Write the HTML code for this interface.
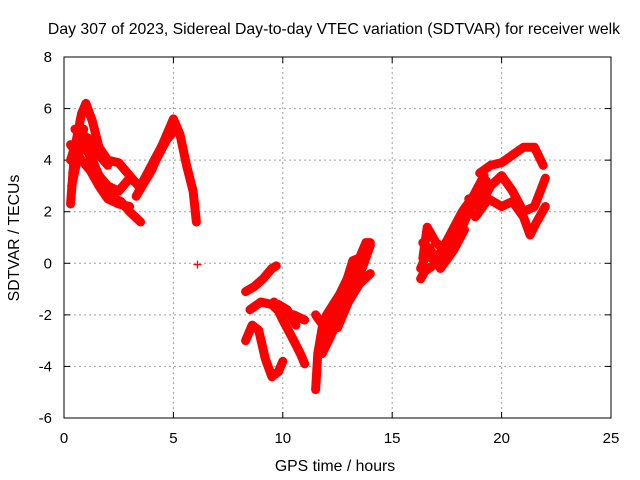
<!DOCTYPE html>
<html><head><meta charset="utf-8"><style>
body{margin:0;background:#fff;}
svg{display:block;font-family:"Liberation Sans",sans-serif;}
</style></head><body>
<svg id="chart" width="640" height="480" xmlns="http://www.w3.org/2000/svg">
<text x="334" y="34" font-size="15.8" text-anchor="middle">Day 307 of 2023, Sidereal Day-to-day VTEC variation (SDTVAR) for receiver welk</text>
<text x="335" y="471" font-size="15.8" text-anchor="middle">GPS time / hours</text>
<text x="19" y="238" font-size="15.8" text-anchor="middle" transform="rotate(-90 19 238)">SDTVAR / TECUs</text>
<g id="grid"></g><g id="axes"></g><g id="marks"></g>
</svg>
<script>
const xTicks=[0,5,10,15,20,25];
const yTicks=[-6,-4,-2,0,2,4,6,8];
const trackNames=["a","b","c","d","e","f","g","h","i","j","k","l","m","n","o","p","q","r","s","t","u","v","w","x"];
const trackTimes=[
[0.3,0.5,0.8,1.0,1.3,1.6,2.0,2.5,3.0,3.5,4.0,4.5,5.0,5.3,5.6,5.9,6.05],
[0.3,0.6,1.0,1.5,2.0,2.5,3.0,3.5,4.0,4.5,5.0],
[0.4,0.7,1.0,1.3,1.7,2.0,2.3,2.6,3.0,3.5],
[0.3,0.8,1.2,1.6,2.0,2.5,3.0],
[8.3,8.7,9.1,9.5,9.7],
[8.5,9.0,9.5,10.0,10.5,11.0],
[9.6,10.0,10.5,10.8,11.0],
[8.3,8.6,8.9,9.2,9.5,9.8,10.0],
[11.5,11.6,11.8,12.0,12.3,12.6,13.0,13.3],
[11.5,12.0,12.5,13.0,13.5,14.0],
[12.0,12.5,12.8,13.2,13.5,13.8,14.0],
[12.5,13.0,13.5,14.0],
[16.3,16.5,17.0,17.5,18.0,18.5,19.0,19.3],
[19.0,19.5,20.0,20.5,21.0,21.5,21.9],
[18.5,19.0,19.5,20.0,20.5,21.0,21.5,22.0],
[18.8,19.4,20.0,20.5,21.0,21.3,21.6,22.0],
[16.4,16.6,17.0,17.3,17.6],
[0.35,0.6,0.9],
[0.5,0.8,1.2,1.6,2.0],
[3.3,3.7,4.2,4.7,5.1],
[16.4,16.8,17.2,17.7,18.2,18.7,19.2],
[16.3,16.7,17.2,17.8,18.3],
[11.8,12.2,12.6,13.0,13.4],
[9.8,10.2,10.6]];
const trackValues=[
[2.3,4.5,5.8,6.2,5.5,4.5,4.0,3.9,3.4,2.9,3.6,4.6,5.6,5.0,3.8,2.8,1.6],
[4.0,4.8,4.5,3.5,3.0,2.8,3.3,3.0,3.8,4.6,5.5],
[3.5,4.3,4.7,4.0,3.2,2.8,2.5,2.4,2.0,1.6],
[4.6,4.0,3.6,3.0,2.5,2.3,2.2],
[-1.1,-0.9,-0.6,-0.2,-0.1],
[-1.8,-1.5,-1.6,-2.0,-2.0,-2.2],
[-1.5,-2.2,-3.0,-3.5,-3.9],
[-3.0,-2.4,-2.6,-3.7,-4.4,-4.2,-3.8],
[-4.9,-3.5,-2.5,-2.0,-1.6,-1.2,-0.5,0.0],
[-2.0,-2.6,-1.8,-1.2,-0.5,0.7],
[-3.0,-2.2,-1.0,0.1,0.2,0.8,0.8],
[-2.5,-1.5,-0.8,-0.4],
[-0.6,-0.3,0.0,0.3,1.0,2.0,2.8,3.2],
[3.5,3.8,3.9,4.2,4.5,4.5,3.8],
[2.5,2.2,3.0,3.4,2.8,2.0,2.2,3.3],
[1.8,2.5,2.2,2.4,1.8,1.1,1.6,2.2],
[0.2,1.4,0.8,0.6,1.0],
[3.0,4.0,5.2],
[5.2,5.0,4.8,4.2,3.8],
[2.6,3.2,4.0,4.8,5.2],
[0.8,0.2,0.4,1.2,2.0,2.6,3.4],
[-0.2,0.6,-0.2,0.5,1.3],
[-3.5,-2.8,-2.0,-1.5,-0.2],
[-1.6,-1.8,-2.4]];
const singleTimes=[6.1];
const singleValues=[-0.05];

const X0=64,X1=611,Y0=418,Y1=57;
const xs=t=>X0+(t-0)/(25-0)*(X1-X0);
const ys=v=>Y0-(v+6)/(8+6)*(Y0-Y1);
const NS="http://www.w3.org/2000/svg";
function mk(tag,parent,attrs){const e=document.createElementNS(NS,tag);for(const k in attrs)e.setAttribute(k,attrs[k]);parent.appendChild(e);return e;}
const grid=document.getElementById('grid'),axes=document.getElementById('axes'),marks=document.getElementById('marks');
xTicks.forEach(t=>{
  if(t>0&&t<25){const g=mk('line',grid,{x1:xs(t),x2:xs(t),y1:Y1,y2:Y0,stroke:'#a0a0a0','stroke-dasharray':'2,3'});
  
  }
  const tk=mk('line',axes,{x1:xs(t),x2:xs(t),y1:Y0,y2:Y0-6,stroke:'#000'});
  
  
  mk('line',axes,{x1:xs(t),x2:xs(t),y1:Y1,y2:Y1+6,stroke:'#000'});
  const l=mk('text',axes,{x:xs(t),y:Y0+25,'font-size':15,'text-anchor':'middle'});l.textContent=t;
  
  
});
yTicks.forEach(v=>{
  if(v>-6&&v<8){const g=mk('line',grid,{x1:X0,x2:X1,y1:ys(v),y2:ys(v),stroke:'#a0a0a0','stroke-dasharray':'2,3'});
  
  }
  const tk=mk('line',axes,{x1:X0,x2:X0+6,y1:ys(v),y2:ys(v),stroke:'#000'});
  
  
  mk('line',axes,{x1:X1,x2:X1-6,y1:ys(v),y2:ys(v),stroke:'#000'});
  const l=mk('text',axes,{x:X0-12,y:ys(v)+5,'font-size':15,'text-anchor':'end'});l.textContent=v;
  
  
});
const fr=mk('rect',axes,{x:X0,y:Y1,width:X1-X0,height:Y0-Y1,fill:'none',stroke:'#000'});


function plus(t,v,name){const p=mk('path',marks,{d:`M${xs(t)-4},${ys(v)}h8M${xs(t)},${ys(v)-4}v8`,stroke:'#f00','stroke-width':1.3});
  
  }
trackTimes.forEach((ts,i)=>{
  const vs=trackValues[i];
  const pl=mk('polyline',marks,{points:ts.map((t,j)=>xs(t)+','+ys(vs[j])).join(' '),fill:'none',stroke:'#f00','stroke-width':9,'stroke-linejoin':'round','stroke-linecap':'round'});
  
  
  ts.forEach((t,j)=>plus(t,vs[j],'point-'+trackNames[i]));
});
singleTimes.forEach((t,i)=>plus(t,singleValues[i],'isolated-point'));
</script>
</body></html>
